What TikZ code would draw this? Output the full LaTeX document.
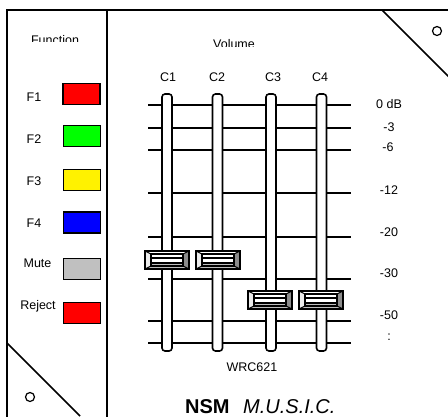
\documentclass[tikz,border=0pt]{standalone}
\usepackage{fontspec}
\setmainfont{Liberation Sans}
\begin{document}
\begin{tikzpicture}[x=1pt,y=-1pt,
  frameline/.style={line width=1.5pt},
  lbl/.style={inner sep=0pt,text height=9pt,text depth=0pt,font=\fontsize{12.5}{14}\selectfont},
  bigtxt/.style={inner sep=0pt,anchor=base west,text depth=0pt},
  fbox/.style={draw,line width=1.6pt,minimum width=37pt,minimum height=21pt,inner sep=0pt},
  gridline/.style={line width=1.6pt},
  track/.style={draw,line width=1.6pt,fill=white,rounded corners=3pt,minimum width=10pt,minimum height=257pt,inner sep=0pt},
  hole/.style={draw,line width=1.2pt,circle,minimum size=9pt,inner sep=0pt},
  knob/.pic={
    \fill[knobgray] (-22,-9) rectangle (22,9);
    \fill[white] (-22,-9) -- (22,-9) -- (16,-6) -- (-16,-6) -- cycle;
    \fill[white!92!black] (-22,-9) -- (-16,-6) -- (-16,6) -- (-22,9) -- cycle;
    \fill[knobdark] (22,-9) -- (16,-6) -- (16,6) -- (22,9) -- cycle;
    \fill[white] (-16,-6) rectangle (16,3);
    \draw[line width=1.2pt] (-22,-9) rectangle (22,9);
    \draw[line width=1.1pt] (-16,-6) rectangle (16,6);
    \draw[line width=1.1pt] (-22,-9) -- (-16,-6) (22,-9) -- (16,-6) (-22,9) -- (-16,6) (22,9) -- (16,6);
    \draw[line width=1.1pt] (-16,-2) -- (16,-2) (-16,3) -- (16,3);
  }]
\definecolor{knobgray}{HTML}{BDBDBD}
\definecolor{knobdark}{HTML}{8C8C8C}
\definecolor{silver}{HTML}{C0C0C0}
\useasboundingbox (0,0) rectangle (448,416);
\clip (0,0) rectangle (448,416);

% frame
\draw[frameline] (7,430) -- (7,10) -- (460,10);
\draw[frameline] (107,10) -- (107,430);
\draw[frameline] (382,10) -- (452,80);
\draw[frameline] (7,343) -- (80,416);
\node[hole] (h1) at (437,31) {};
\node[hole] (h2) at (30,397) {};

% clipped headings
\begin{scope}
  \clip (0,0) rectangle (448,41.8);
  \node[lbl] (function) at (55,39.6) {Function};
\end{scope}
\begin{scope}
  \clip (0,0) rectangle (448,46.5);
  \node[lbl] (volume) at (234,43.8) {Volume};
\end{scope}

% function buttons
\node[fbox,fill=red] (b1) at (81.5,94) {};
\node[fbox,fill=green] (b2) at (82,136) {};
\node[fbox,fill=yellow] (b3) at (82,180) {};
\node[fbox,fill=blue] (b4) at (82,222.5) {};
\node[fbox,fill=silver] (b5) at (82,269) {};
\node[fbox,fill=red] (b6) at (82,313) {};
\node[lbl] (l1) at (34,97) {F1};
\node[lbl] (l2) at (34,139) {F2};
\node[lbl] (l3) at (34,181) {F3};
\node[lbl] (l4) at (34,223) {F4};
\node[lbl] (l5) at (37.5,263) {Mute};
\node[lbl] (l6) at (38,305) {Reject};

% grid lines
\foreach \yy in {105,128,150,193,237,279,321,343}{
  \coordinate (gl\yy) at (148,\yy);
  \coordinate (gr\yy) at (351,\yy);
  \draw[gridline] (gl\yy) -- (gr\yy);
}

% tracks
\node[track] (t1) at (167,222.5) {};
\node[track] (t2) at (217.5,222.5) {};
\node[track] (t3) at (271,222.5) {};
\node[track] (t4) at (321.5,222.5) {};
\node[lbl] (c1) at (168,77) {C1};
\node[lbl] (c2) at (217,77) {C2};
\node[lbl] (c3) at (273,77) {C3};
\node[lbl] (c4) at (320,77) {C4};

% knobs
\pic at (167,260) {knob};
\pic at (218,260) {knob};
\pic at (270,300) {knob};
\pic at (321,300) {knob};

% dB labels
\node[lbl] (d0) at (389,104) {0 dB};
\node[lbl] (d3) at (389,127) {-3};
\node[lbl] (d6) at (388,147) {-6};
\node[lbl] (d12) at (389,190) {-12};
\node[lbl] (d20) at (389,232) {-20};
\node[lbl] (d30) at (389,273) {-30};
\node[lbl] (d50) at (389,315) {-50};
\node[lbl] (dd) at (389,336) {:};

\node[lbl] (model) at (252,367) {WRC621};
\node[bigtxt,font=\fontsize{20}{24}\selectfont\bfseries] (nsm) at (185,413) {NSM};
\node[bigtxt,font=\fontsize{20}{24}\selectfont\itshape] (music) at (243,413) {M.U.S.I.C.};
\end{tikzpicture}
\end{document}
